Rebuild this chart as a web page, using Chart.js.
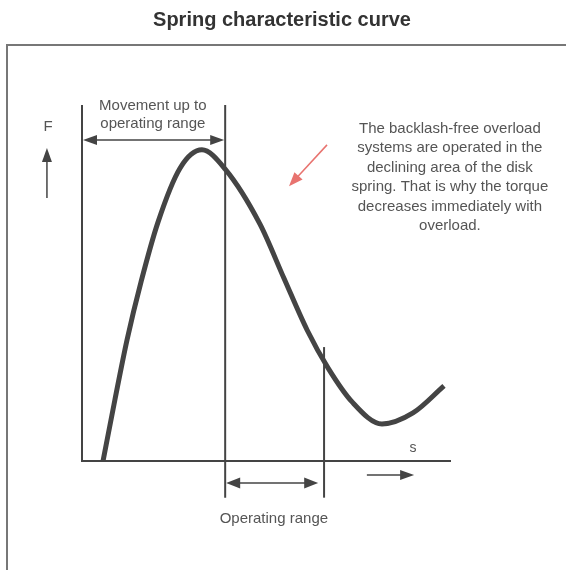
<!DOCTYPE html>
<html>
<head>
<meta charset="utf-8">
<script src="https://cdn.jsdelivr.net/npm/chart.js@4/dist/chart.umd.min.js"></script>
<style>
  html, body { margin: 0; padding: 0; background: #fff; }
  #wrap { width: 566px; height: 570px; }
</style>
</head>
<body>
<div id="wrap"><canvas id="c" width="566" height="570"></canvas></div>
<script>
// ---- data (chart units: s from 0..100 along the x axis, F from 0..100 along the y axis) ----
const curveS = [5.7, 8.9, 12.2, 16.0, 20.6, 26.6, 32.5, 38.8, 48.2, 54.7, 61.0, 66.7, 73.2, 81.3, 89.7, 98.1];
const curveF = [0.0, 17.1, 34.0, 50.3, 67.1, 82.3, 87.4, 82.0, 66.6, 51.4, 36.8, 26.1, 16.6, 10.4, 13.5, 21.1];

const axisS = [0, 100];          // x axis extent
const axisF = [0, 100];          // y axis extent
const limitS = [38.8, 65.6];     // start / end of operating range
const limitTopF = [100, 32.0];   // top of each limit line
const limitBottomF = -10.3;      // bottom of limit lines
const movementArrowF = 90.2;     // level of "movement" arrow
const rangeArrowF = -6.2;        // level of operating-range arrow
const rangeArrowS = [38.8, 64.0];
const sArrowS = [77.2, 90.0];
const sArrowF = -3.9;
const fArrowS = -9.5;
const fArrowF = [73.9, 87.9];
const redArrowFrom = [66.4, 88.8];
const redArrowTo = [56.1, 77.2];

const titleText = 'Spring characteristic curve';
const movementLabel = ['Movement up to', 'operating range'];
const movementLabelAt = [19.2, 99.7];
const rangeLabel = 'Operating range';
const rangeLabelAt = [52.0, -16.3];
const sLabel = 's';
const sLabelAt = [89.7, 3.7];
const fLabel = 'F';
const fLabelAt = [-9.2, 93.8];
const noteLines = [
  'The backlash-free overload',
  'systems are operated in the',
  'declining area of the disk',
  'spring. That is why the torque',
  'decreases immediately with',
  'overload.'
];
const noteAt = [99.7, 93.3];

const points = curveS.map((s, i) => ({ x: s, y: curveF[i] }));

const FONT = '"Liberation Sans", Arial, Helvetica, sans-serif';
const INK = '#444';
const TEXT = '#555';

function arrowHead(ctx, x1, y1, x2, y2, len, half, color) {
  const a = Math.atan2(y2 - y1, x2 - x1);
  ctx.save();
  ctx.fillStyle = color;
  ctx.beginPath();
  ctx.moveTo(x2, y2);
  ctx.lineTo(x2 - len * Math.cos(a) + half * Math.sin(a), y2 - len * Math.sin(a) - half * Math.cos(a));
  ctx.lineTo(x2 - len * Math.cos(a) - half * Math.sin(a), y2 - len * Math.sin(a) + half * Math.cos(a));
  ctx.closePath();
  ctx.fill();
  ctx.restore();
}
function line(ctx, x1, y1, x2, y2, w, color) {
  ctx.save();
  ctx.strokeStyle = color;
  ctx.lineWidth = w;
  ctx.beginPath();
  ctx.moveTo(x1, y1);
  ctx.lineTo(x2, y2);
  ctx.stroke();
  ctx.restore();
}

const decor = {
  id: 'decor',
  beforeDraw(chart) {
    const ctx = chart.ctx;
    ctx.save();
    ctx.strokeStyle = '#777';
    ctx.lineWidth = 2;
    ctx.strokeRect(7, 45, 600, 600);
    ctx.restore();
  },
  beforeDatasetsDraw(chart) {
    const ctx = chart.ctx;
    const X = v => chart.scales.x.getPixelForValue(v);
    const Y = v => chart.scales.y.getPixelForValue(v);
    // axes
    line(ctx, X(axisS[0]), Y(axisF[1]), X(axisS[0]), Y(axisF[0]) + 1, 2, INK);
    line(ctx, X(axisS[0]) - 1, Y(axisF[0]), X(axisS[1]), Y(axisF[0]), 2, INK);
    // limit lines
    line(ctx, X(limitS[0]), Y(limitTopF[0]), X(limitS[0]), Y(limitBottomF), 2, INK);
    line(ctx, X(limitS[1]), Y(limitTopF[1]), X(limitS[1]), Y(limitBottomF), 2, INK);
    // movement arrow (double headed)
    const ma = Y(movementArrowF);
    line(ctx, X(axisS[0]) + 6, ma, X(limitS[0]) - 6, ma, 1.5, INK);
    arrowHead(ctx, X(limitS[0]) - 20, ma, X(limitS[0]) - 1, ma, 14, 5, INK);
    arrowHead(ctx, X(axisS[0]) + 20, ma, X(axisS[0]) + 1, ma, 14, 5, INK);
    // operating range arrow
    const ra = Y(rangeArrowF);
    line(ctx, X(rangeArrowS[0]) + 6, ra, X(rangeArrowS[1]) - 6, ra, 1.5, INK);
    arrowHead(ctx, X(rangeArrowS[1]) - 20, ra, X(rangeArrowS[1]), ra, 14, 5.5, INK);
    arrowHead(ctx, X(rangeArrowS[0]) + 20, ra, X(rangeArrowS[0]) + 1, ra, 14, 5.5, INK);
    // s arrow
    const sa = Y(sArrowF);
    line(ctx, X(sArrowS[0]), sa, X(sArrowS[1]) - 6, sa, 1.5, INK);
    arrowHead(ctx, X(sArrowS[0]), sa, X(sArrowS[1]), sa, 14, 5, INK);
    // F arrow
    const fx = X(fArrowS);
    line(ctx, fx, Y(fArrowF[0]), fx, Y(fArrowF[1]) + 6, 1.5, INK);
    arrowHead(ctx, fx, Y(fArrowF[0]), fx, Y(fArrowF[1]), 14, 5, INK);
    // red arrow
    const rx1 = X(redArrowFrom[0]), ry1 = Y(redArrowFrom[1]);
    const rx2 = X(redArrowTo[0]), ry2 = Y(redArrowTo[1]);
    line(ctx, rx1, ry1, rx2 + 0.6 * (rx1 - rx2) / 8, ry2 + 0.6 * (ry1 - ry2) / 8, 1.5, '#e8736f');
    arrowHead(ctx, rx1, ry1, rx2, ry2, 14, 5.5, '#e8736f');

    // texts
    ctx.save();
    ctx.fillStyle = TEXT;
    ctx.textAlign = 'center';
    ctx.textBaseline = 'middle';
    ctx.font = '15px ' + FONT;
    movementLabel.forEach((t, i) => ctx.fillText(t, X(movementLabelAt[0]), Y(movementLabelAt[1]) + i * 18));
    ctx.fillText(rangeLabel, X(rangeLabelAt[0]), Y(rangeLabelAt[1]));
    ctx.fillText(fLabel, X(fLabelAt[0]), Y(fLabelAt[1]));
    ctx.font = '14px ' + FONT;
    ctx.fillText(sLabel, X(sLabelAt[0]), Y(sLabelAt[1]));
    ctx.font = '15px ' + FONT;
    noteLines.forEach((t, i) => ctx.fillText(t, X(noteAt[0]), Y(noteAt[1]) + i * 19.5));
    ctx.restore();
  }
};

new Chart(document.getElementById('c'), {
  type: 'line',
  data: {
    datasets: [{
      data: points,
      borderColor: INK,
      borderWidth: 5,
      pointRadius: 0,
      fill: false,
      cubicInterpolationMode: 'monotone',
      clip: false
    }]
  },
  options: {
    responsive: false,
    animation: false,
    layout: { padding: { left: 82, right: 84, bottom: 109, top: 0 } },
    scales: {
      x: { type: 'linear', min: 0, max: 108.4, display: false },
      y: { type: 'linear', min: 0, max: 100, display: false }
    },
    plugins: {
      legend: { display: false },
      tooltip: { enabled: false },
      title: {
        display: true,
        text: titleText,
        color: '#333',
        font: { family: FONT, size: 20, weight: 'bold', lineHeight: 1.2 },
        padding: { top: 8, bottom: 73 }
      }
    }
  },
  plugins: [decor]
});
</script>
</body>
</html>
